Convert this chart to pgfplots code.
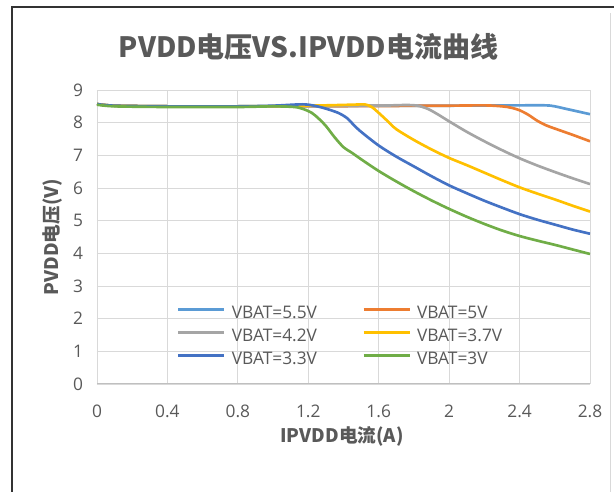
\documentclass[border=0pt]{standalone}
\usepackage{pgfplots}
\pgfplotsset{compat=1.18}
\usepackage{fontspec}
\setmainfont{Noto Sans CJK SC}
\newfontfamily\osans{Open Sans}

\definecolor{c55}{HTML}{5B9BD5}
\definecolor{c50}{HTML}{ED7D31}
\definecolor{c42}{HTML}{A5A5A5}
\definecolor{c37}{HTML}{FFC000}
\definecolor{c33}{HTML}{4472C4}
\definecolor{c30}{HTML}{70AD47}
\definecolor{txt}{HTML}{595959}
\definecolor{gridc}{HTML}{D9D9D9}

\begin{document}
\begin{tikzpicture}
\useasboundingbox (-72.75pt,-81pt) rectangle (387.75pt,288pt);
% frame of the chart area
\draw[line width=1.5pt, color=black!80] (-63.75pt,-82pt) -- (-63.75pt,282.75pt) -- (389pt,282.75pt);
\draw[line width=0.6pt, color=black!15] (384.75pt,278pt) -- (384.75pt,-82pt);
\begin{axis}[
    width=369.75pt, height=220.5pt,
    scale only axis,
    xmin=0, xmax=2.8,
    ymin=0, ymax=9,
    xtick={0,0.4,0.8,1.2,1.6,2,2.4,2.8},
    ytick={0,1,2,3,4,5,6,7,8,9},
    xmajorgrids=true, ymajorgrids=true,
    grid style={color=gridc, line width=0.6pt},
    axis line style={draw=none},
    tick style={draw=none},
    /pgf/number format/assume math mode=true,
    ticklabel style={font=\osans\fontsize{13}{13}\selectfont, color=txt},
    xticklabel style={yshift=-12pt},
    yticklabel style={xshift=-7pt},
    title={PVDD电压VS.IPVDD电流曲线},
    title style={font=\bfseries\fontsize{21}{24}\selectfont, color=txt,
        at={(axis description cs:0.429,1)}, anchor=center, yshift=26pt},
    xlabel={IPVDD电流(A)},
    ylabel={PVDD电压(V)},
    label style={font=\bfseries\fontsize{14}{14}\selectfont, color=txt},
    xlabel style={at={(axis description cs:0.497,0)}, anchor=center, yshift=-39pt},
    ylabel style={at={(axis description cs:0,0.5)}, anchor=center, yshift=33pt},
    legend columns=2,
    legend cell align=left,
    legend style={draw=none, fill=none, inner sep=0pt,
        at={(axis description cs:0.162,0.267)}, anchor=north west,
        font=\osans\fontsize{13}{13}\selectfont, text=txt,
        nodes={inner sep=0pt, text height=9.5pt, text depth=2.5pt},
        /tikz/every odd column/.append style={column sep=4.5pt},
        /tikz/every even column/.append style={column sep=34pt},
        row sep=5.25pt},
    legend image code/.code={\draw[#1] (0pt,3.2pt) -- (34.5pt,3.2pt);},
    every axis plot/.append style={line width=2pt, smooth},
]
\addplot[color=c55] coordinates {
(0,8.57)(0.1,8.52)(0.4,8.5)(0.8,8.5)(1.2,8.51)(1.6,8.52)(2.0,8.52)(2.4,8.53)(2.55,8.53)(2.6,8.5)(2.65,8.44)(2.7,8.38)(2.75,8.32)(2.8,8.26)
};
\addplot[color=c50] coordinates {
(0,8.57)(0.1,8.52)(0.4,8.5)(0.8,8.5)(1.2,8.5)(1.6,8.51)(2.0,8.52)(2.2,8.53)(2.3,8.5)(2.35,8.46)(2.4,8.38)(2.45,8.24)(2.5,8.06)(2.55,7.92)(2.6,7.82)(2.7,7.63)(2.8,7.43)
};
\addplot[color=c42] coordinates {
(0,8.57)(0.1,8.52)(0.4,8.5)(0.8,8.5)(1.2,8.5)(1.6,8.52)(1.75,8.54)(1.82,8.52)(1.88,8.42)(1.94,8.24)(2.0,8.04)(2.1,7.72)(2.2,7.43)(2.3,7.16)(2.4,6.91)(2.5,6.69)(2.6,6.49)(2.7,6.3)(2.8,6.12)
};
\addplot[color=c37] coordinates {
(0,8.57)(0.1,8.52)(0.4,8.5)(0.8,8.5)(1.2,8.52)(1.45,8.55)(1.52,8.56)(1.56,8.48)(1.6,8.3)(1.65,8.05)(1.7,7.8)(1.8,7.47)(1.9,7.18)(2.0,6.92)(2.1,6.7)(2.2,6.47)(2.3,6.24)(2.4,6.02)(2.5,5.83)(2.6,5.65)(2.7,5.46)(2.8,5.28)
};
\addplot[color=c33] coordinates {
(0,8.57)(0.1,8.52)(0.4,8.5)(0.8,8.5)(1.0,8.52)(1.15,8.56)(1.2,8.55)(1.25,8.5)(1.3,8.43)(1.37,8.3)(1.42,8.14)(1.46,7.92)(1.5,7.72)(1.6,7.3)(1.7,6.96)(1.8,6.66)(1.9,6.36)(2.0,6.08)(2.1,5.84)(2.2,5.61)(2.3,5.4)(2.4,5.2)(2.5,5.03)(2.6,4.88)(2.7,4.73)(2.8,4.6)
};
\addplot[color=c30] coordinates {
(0,8.55)(0.1,8.5)(0.4,8.48)(0.8,8.48)(1.0,8.5)(1.12,8.48)(1.17,8.42)(1.22,8.3)(1.26,8.12)(1.3,7.9)(1.35,7.55)(1.4,7.25)(1.45,7.07)(1.5,6.88)(1.6,6.52)(1.7,6.2)(1.8,5.9)(1.9,5.62)(2.0,5.36)(2.1,5.12)(2.2,4.9)(2.3,4.7)(2.4,4.53)(2.5,4.39)(2.6,4.26)(2.7,4.12)(2.8,3.98)
};
\legend{VBAT=5.5V, VBAT=5V, VBAT=4.2V, VBAT=3.7V, VBAT=3.3V, VBAT=3V}
\draw[color=black!25, line width=0.8pt] (axis cs:0,0) -- (axis cs:2.8,0);
\end{axis}
\end{tikzpicture}
\end{document}
